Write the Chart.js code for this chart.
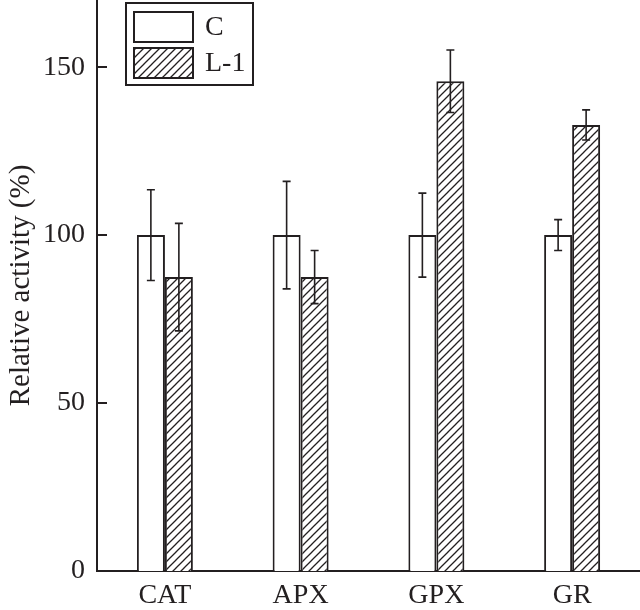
<!DOCTYPE html>
<html>
<head>
<meta charset="utf-8">
<script src="https://cdn.jsdelivr.net/npm/chart.js@4/dist/chart.umd.min.js"></script>
<style>
  html, body { margin: 0; padding: 0; background: #fff; }
  #wrap { width: 640px; height: 610px; }
</style>
</head>
<body>
<div id="wrap"><canvas id="chart" width="640" height="610"></canvas></div>
<script>
// data
var categories = ['CAT', 'APX', 'GPX', 'GR'];
var seriesNames = ['C', 'L-1'];
var controlValues = [100, 100, 100, 100];
var controlErrors = [13.5, 16, 12.5, 4.6];
var l1Values = [87.5, 87.5, 145.8, 132.8];
var l1Errors = [16, 7.9, 9.3, 4.5];
var yTicks = [0, 50, 100, 150];
var yMax = 170;

var ink = '#231f20';
var serif = '"Liberation Serif", "Times New Roman", serif';
var errorSets = [controlErrors, l1Errors];

// diagonal hatch pattern for L-1 bars
function makeHatch() {
  var c = document.createElement('canvas');
  c.width = 8; c.height = 8;
  var g = c.getContext('2d');
  g.fillStyle = '#fff';
  g.fillRect(0, 0, 8, 8);
  g.strokeStyle = ink;
  g.lineWidth = 1.3;
  g.beginPath();
  g.moveTo(-2, 10); g.lineTo(10, -2);
  g.moveTo(-2, 2); g.lineTo(2, -2);
  g.moveTo(6, 10); g.lineTo(10, 6);
  g.stroke();
  return g.createPattern(c, 'repeat');
}
var hatch = makeHatch();

// error bars drawn on top of each bar
var errorBars = {
  id: 'errorBars',
  afterDatasetsDraw: function(chart) {
    var ctx = chart.ctx, y = chart.scales.y;
    ctx.save();
    ctx.strokeStyle = ink;
    ctx.lineWidth = 1.6;
    chart.data.datasets.forEach(function(ds, i) {
      chart.getDatasetMeta(i).data.forEach(function(bar, j) {
        var e = errorSets[i][j];
        var top = y.getPixelForValue(ds.data[j] + e);
        var bot = y.getPixelForValue(ds.data[j] - e);
        ctx.beginPath();
        ctx.moveTo(bar.x, top); ctx.lineTo(bar.x, bot);
        ctx.moveTo(bar.x - 4, top); ctx.lineTo(bar.x + 4, top);
        ctx.moveTo(bar.x - 4, bot); ctx.lineTo(bar.x + 4, bot);
        ctx.stroke();
      });
    });
    ctx.restore();
  }
};

// inward tick marks + framed legend
var decorations = {
  id: 'decorations',
  afterDraw: function(chart) {
    var ctx = chart.ctx, y = chart.scales.y;
    var left = chart.chartArea.left;
    ctx.save();
    ctx.strokeStyle = ink;
    ctx.lineWidth = 2;
    ctx.beginPath();
    yTicks.forEach(function(v) {
      var py = Math.round(y.getPixelForValue(v));
      ctx.moveTo(left, py); ctx.lineTo(left + 10, py);
    });
    ctx.stroke();

    // legend
    ctx.fillStyle = '#fff';
    ctx.fillRect(126, 3, 127, 82);
    ctx.strokeRect(126, 3, 127, 82);
    ctx.font = '28px ' + serif;
    ctx.textBaseline = 'middle';
    chart.data.datasets.forEach(function(ds, i) {
      var top = 12 + i * 36;
      ctx.fillStyle = ds.backgroundColor;
      ctx.fillRect(134, top, 59, 30);
      ctx.lineWidth = 2;
      ctx.strokeRect(134, top, 59, 30);
      ctx.fillStyle = ink;
      ctx.fillText(ds.label, 205, top + 16);
    });
    ctx.restore();
  }
};

new Chart(document.getElementById('chart').getContext('2d'), {
  type: 'bar',
  data: {
    labels: categories,
    datasets: [{
      label: seriesNames[0],
      data: controlValues,
      backgroundColor: '#fff',
      borderColor: ink,
      borderWidth: 2
    }, {
      label: seriesNames[1],
      data: l1Values,
      backgroundColor: hatch,
      borderColor: ink,
      borderWidth: 2
    }]
  },
  options: {
    responsive: false,
    animation: false,
    devicePixelRatio: 1,
    layout: { padding: 0 },
    categoryPercentage: 0.4125,
    barPercentage: 1,
    plugins: { legend: { display: false }, tooltip: { enabled: false } },
    scales: {
      x: {
        grid: { display: false },
        border: { color: ink, width: 2 },
        ticks: { color: ink, padding: 0, font: { family: serif, size: 28 } },
        afterFit: function(s) { s.height = 39; s.paddingLeft = 0; s.paddingRight = 0; }
      },
      y: {
        min: 0,
        max: yMax,
        grid: { display: false, drawTicks: false },
        border: { color: ink, width: 2 },
        ticks: { color: ink, padding: 12, font: { family: serif, size: 28 } },
        afterBuildTicks: function(s) { s.ticks = yTicks.map(function(v) { return { value: v }; }); },
        afterFit: function(s) { s.width = 97; s.paddingTop = 0; s.paddingBottom = 0; },
        title: {
          display: true,
          text: 'Relative activity (%)',
          color: ink,
          padding: { top: 4, bottom: 0 },
          font: { family: serif, size: 29 }
        }
      }
    }
  },
  plugins: [errorBars, decorations]
});
</script>
</body>
</html>
